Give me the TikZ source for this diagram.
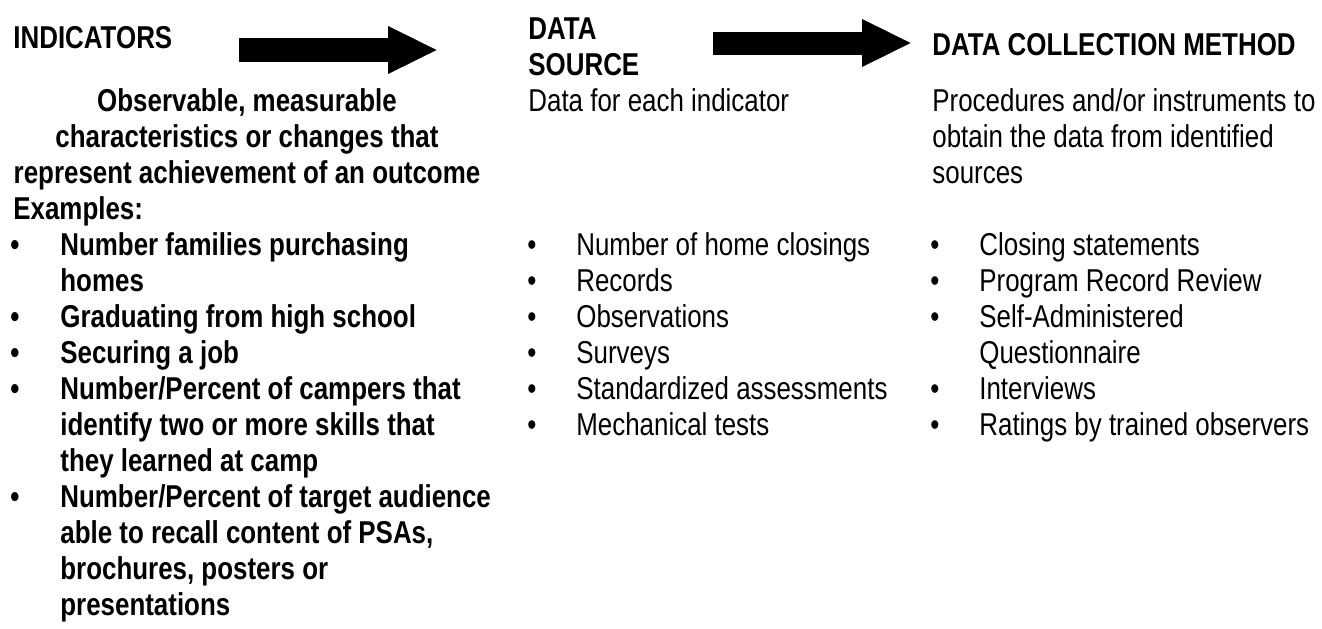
\documentclass[tikz,border=0pt]{standalone}
\usepackage{fontspec}
\setmainfont{Liberation Sans}[FakeStretch=0.82]
\usetikzlibrary{arrows.meta}

\newcommand{\bodyfont}{\fontsize{15.8}{18}\selectfont}
\tikzset{
  txt/.style={anchor=base west, inner sep=0pt, font=\bodyfont},
  hd/.style={txt, font=\bodyfont\bfseries},
  bigarrow/.style={line width=12pt, -{Triangle[length=25pt,width=22pt]}},
}

\begin{document}
\begin{tikzpicture}[x=0.5pt, y=-0.5pt]
      \useasboundingbox (0,0) rectangle (1322,628);
      % headings
      \node[hd] (ind) at (13,48) {INDICATORS};
      \node[hd] (src) at (528,39) {\begin{tabular}[t]{@{}l@{}}DATA\\SOURCE\end{tabular}};
      \node[hd] (meth) at (932,55) {DATA COLLECTION METHOD};
      % arrows
      \coordinate (a1s) at (239,50);
      \coordinate (a1e) at (438,50);
      \coordinate (a2s) at (713,43);
      \coordinate (a2e) at (912,43);
      \draw[bigarrow] (a1s) -- (a1e);
      \draw[bigarrow, line width=11.5pt] (a2s) -- (a2e);
      % indicators column
      \node[hd, anchor=base] (inddef) at (247,111) {\begin{tabular}[t]{@{}c@{}}Observable, measurable\\characteristics or changes that\\represent achievement of an outcome\end{tabular}};
      \node[hd] (exlbl) at (13,219) {Examples:};
      \node[hd] (indlist) at (10,255) {\begin{tabular}[t]{@{}p{25pt}@{}l@{}}
        \textbullet & Number families purchasing\\
                    & homes\\
        \textbullet & Graduating from high school\\
        \textbullet & Securing a job\\
        \textbullet & Number/Percent of campers that\\
                    & identify two or more skills that\\
                    & they learned at camp\\
        \textbullet & Number/Percent of target audience\\
                    & able to recall content of PSAs,\\
                    & brochures, posters or\\
                    & presentations
      \end{tabular}};
      % data source column
      \node[txt] (srcdef) at (528,111) {Data for each indicator};
      \node[txt] (srclist) at (527,255) {\begin{tabular}[t]{@{}p{24.5pt}@{}l@{}}
        \textbullet & Number of home closings\\
        \textbullet & Records\\
        \textbullet & Observations\\
        \textbullet & Surveys\\
        \textbullet & Standardized assessments\\
        \textbullet & Mechanical tests
      \end{tabular}};
      % method column
      \node[txt] (methdef) at (932,111) {\begin{tabular}[t]{@{}l@{}}Procedures and/or instruments to\\obtain the data from identified\\sources\end{tabular}};
      \node[txt] (methlist) at (930,255) {\begin{tabular}[t]{@{}p{24.5pt}@{}l@{}}
        \textbullet & Closing statements\\
        \textbullet & Program Record Review\\
        \textbullet & Self-Administered\\
                    & Questionnaire\\
        \textbullet & Interviews\\
        \textbullet & Ratings by trained observers
      \end{tabular}};
    \end{tikzpicture}
\end{document}
